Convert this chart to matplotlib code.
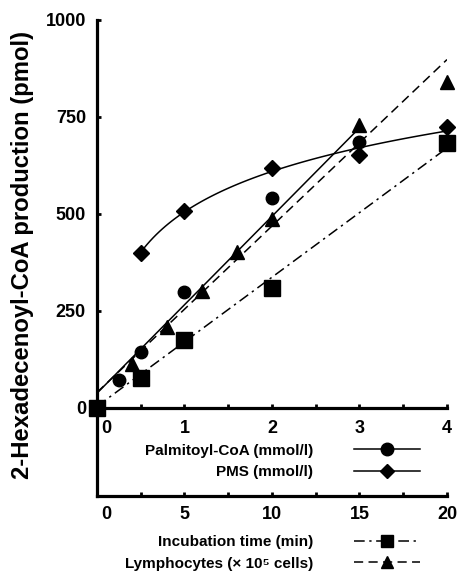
import numpy as np
import matplotlib
matplotlib.use("Agg")
from matplotlib import pyplot as plt
from matplotlib.lines import Line2D
import matplotlib.transforms as mtransforms

plt.rcParams['font.family'] = ['Liberation Sans', 'DejaVu Sans']
plt.rcParams['font.weight'] = 'bold'

# upper scale (mmol/l, 0-4)
palm_x = [0.25, 0.5, 1, 2, 3]
palm_y = [72, 145, 300, 540, 686]
pms_x = [0.5, 1, 2, 3, 4]
pms_y = [400, 507, 618, 652, 724]

# lower scale (min / 10^5 cells, 0-20)
inc_x = [0, 2.5, 5, 10, 20]
inc_y = [0, 78, 175, 310, 683]
lym_x = [2, 4, 6, 8, 10, 15, 20]
lym_y = [112, 208, 302, 402, 486, 730, 840]

# regression lines: (slope, intercept, x range)
palm_fit = (228, 38, (0, 3))
inc_fit = (33.3, 4, (0, 20))
lym_fit = (42.9, 40, (0, 20))

upper_ticks = [0, 1, 2, 3, 4]
lower_ticks = [0, 5, 10, 15, 20]
y_ticks = [0, 250, 500, 750, 1000]

fig = plt.figure(figsize=(4.6, 5.72), dpi=100)
ax = fig.add_axes([97 / 460, 1 - 496 / 572, 350 / 460, 476 / 572])
ax2 = ax.twiny()

ax.set_xlim(0, 4)
ax.set_ylim(-227, 1000)
ax2.set_xlim(0, 20)

for a in (ax, ax2):
    for s in a.spines.values():
        s.set_linewidth(2.3)
ax.spines['top'].set_visible(False)
ax.spines['right'].set_visible(False)
ax.spines['bottom'].set_position(('data', 0))
ax2.spines['top'].set_visible(False)
ax2.spines['right'].set_visible(False)
ax2.spines['left'].set_visible(False)
ax2.spines['bottom'].set_visible(True)
ax2.xaxis.set_ticks_position('bottom')
ax2.xaxis.set_label_position('bottom')

ax.set_yticks(y_ticks)
ax.set_xticks(upper_ticks)
ax.set_xticks(np.arange(0, 4.01, 0.5), minor=True)
ax2.set_xticks(lower_ticks)
ax2.set_xticks(np.arange(0, 20.01, 2.5), minor=True)
ax.tick_params(axis='both', which='both', direction='in', length=3, width=2)
ax2.tick_params(axis='x', which='both', direction='in', length=3, width=2)
ax.tick_params(axis='y', labelsize=13, pad=8)
ax.tick_params(axis='x', labelsize=13, pad=9)
ax2.tick_params(axis='x', labelsize=13, pad=7)

# shift the "0" labels a bit right of the y-axis like the original
for lab in (ax.get_xticklabels()[0], ax2.get_xticklabels()[0]):
    lab.set_transform(lab.get_transform() + mtransforms.ScaledTranslation(9 / 100, 0, fig.dpi_scale_trans))

ax.set_ylabel('2-Hexadecenoyl-CoA production (pmol)', fontsize=17.2, fontweight='bold')
ax.yaxis.set_label_coords(-0.18, 0.506)

dash_dot = (7, 3, 1.5, 3)
dashed = (6, 3.5)

# fitted lines
xs = np.array(palm_fit[2])
ax.plot(xs, palm_fit[0] * xs + palm_fit[1], color='k', lw=1.1)
lx = np.linspace(min(pms_x), max(pms_x), 100)
k, b = np.polyfit(np.log(pms_x), pms_y, 1)
ax.plot(lx, k * np.log(lx) + b, color='k', lw=1.1)
xs = np.array(inc_fit[2])
ax2.plot(xs, inc_fit[0] * xs + inc_fit[1], color='k', lw=1.1, dashes=dash_dot)
xs = np.array(lym_fit[2])
ax2.plot(xs, lym_fit[0] * xs + lym_fit[1], color='k', lw=1.1, dashes=dashed)

# data points
ax.plot(palm_x, palm_y, 'o', color='k', ms=9, clip_on=False, zorder=5)
ax.plot(pms_x, pms_y, 'D', color='k', ms=8, clip_on=False, zorder=5)
ax2.plot(inc_x, inc_y, 's', color='k', ms=11, clip_on=False, zorder=5)
ax2.plot(lym_x, lym_y, '^', color='k', ms=10, clip_on=False, zorder=5)

leg_kw = dict(markerfirst=False, frameon=False, loc='center right', prop={'size': 11, 'weight': 'bold'},
              handlelength=4.35, handletextpad=2.65, labelspacing=0.5, borderpad=0, borderaxespad=0,
              bbox_transform=fig.transFigure)
h1 = [Line2D([], [], color='k', lw=1.1, marker='o', ms=9),
      Line2D([], [], color='k', lw=1.1, marker='D', ms=7)]
leg1 = ax2.legend(h1, ['Palmitoyl-CoA (mmol/l)', 'PMS (mmol/l)'],
                  bbox_to_anchor=(420 / 460, 1 - 461.5 / 572), **leg_kw)
ax2.add_artist(leg1)
h2 = [Line2D([], [], color='k', lw=1.1, marker='s', ms=9, dashes=dash_dot),
      Line2D([], [], color='k', lw=1.1, marker='^', ms=9, dashes=dashed)]
ax2.legend(h2, ['Incubation time (min)', 'Lymphocytes (× 10⁵ cells)'],
           bbox_to_anchor=(420 / 460, 1 - 553 / 572), **leg_kw)

fig.savefig('out.png', dpi=100)
